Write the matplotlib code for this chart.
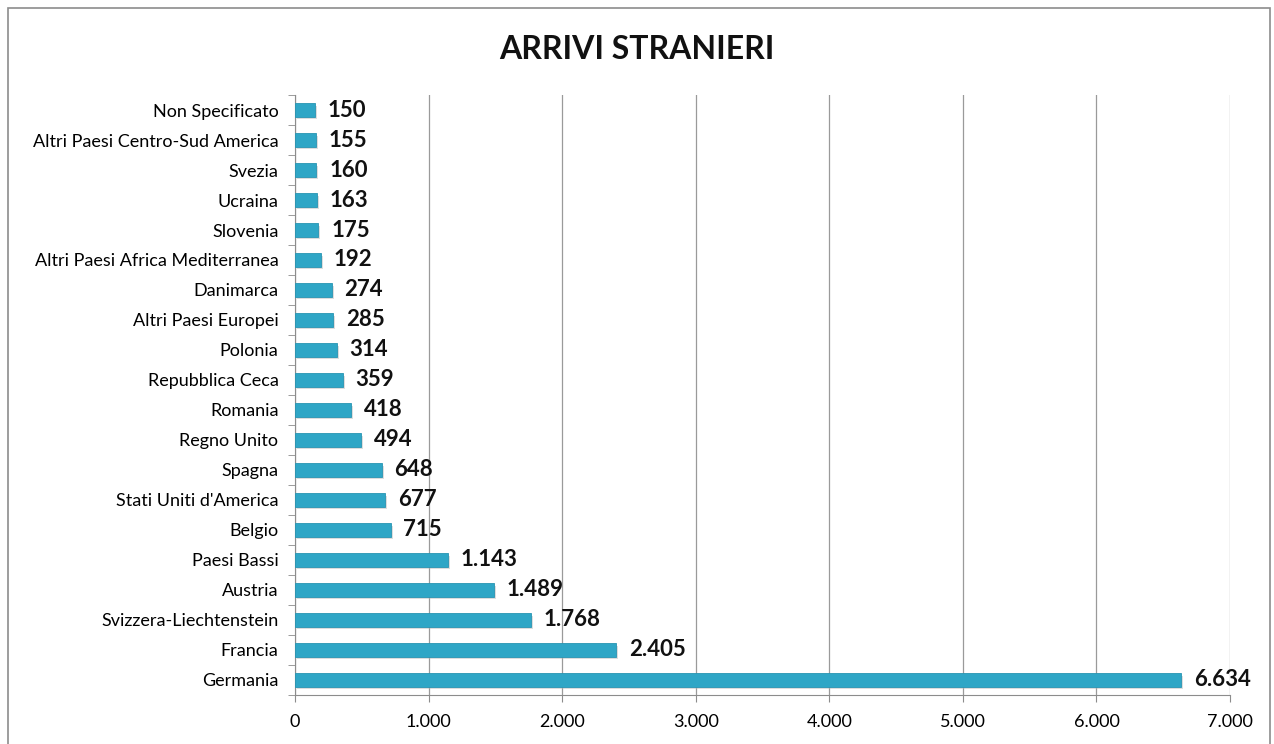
import matplotlib.pyplot as plt
import numpy as np
from matplotlib.patches import Rectangle
from matplotlib.ticker import FuncFormatter, FixedLocator

plt.rcParams['font.family'] = ['Lato', 'DejaVu Sans']

paesi = ["Germania", "Francia", "Svizzera-Liechtenstein", "Austria", "Paesi Bassi",
         "Belgio", "Stati Uniti d'America", "Spagna", "Regno Unito", "Romania",
         "Repubblica Ceca", "Polonia", "Altri Paesi Europei", "Danimarca",
         "Altri Paesi Africa Mediterranea", "Slovenia", "Ucraina", "Svezia",
         "Altri Paesi Centro-Sud America", "Non Specificato"]
arrivi = [6634, 2405, 1768, 1489, 1143, 715, 677, 648, 494, 418,
          359, 314, 285, 274, 192, 175, 163, 160, 155, 150]


def fmt_it(v, pos=None):
    return f"{int(v):,}".replace(",", ".")


fig = plt.figure(figsize=(12.74, 7.44), dpi=100)
fig.patches.append(Rectangle((8 / 1274, -0.01), 1262 / 1274, 1 - 8 / 744 + 0.01,
                             transform=fig.transFigure, fill=False,
                             edgecolor='#8c8c8c', linewidth=1.2))
ax = fig.add_axes([0.2316, 0.0659, 0.7339, 0.8064])

y = np.arange(len(paesi))
# shadow
ax.barh(y - 0.09, arrivi, height=0.45, left=15, color='#b5b5b5', alpha=0.45, zorder=2)
ax.barh(y, arrivi, height=0.46, color='#2fa6c6', edgecolor='#2894b2', linewidth=0.6, zorder=3)

for yi, v in zip(y, arrivi):
    ax.text(v + 95, yi, fmt_it(v), va='center', ha='left',
            fontsize=16, fontweight='bold', color='#111111', zorder=4)

ax.set_xlim(0, 7000)
ax.set_ylim(-0.5, len(paesi) - 0.5)
ax.set_xticks(np.arange(0, 7001, 1000))
ax.xaxis.set_major_formatter(FuncFormatter(fmt_it))
ax.set_yticks(y)
ax.set_yticklabels(paesi)
ax.yaxis.set_minor_locator(FixedLocator(np.arange(-0.5, len(paesi), 1)))
ax.tick_params(axis='y', which='major', length=0, pad=12, labelsize=13)
ax.tick_params(axis='y', which='minor', length=5, color='#8c8c8c', direction='out')
ax.tick_params(axis='x', length=5, color='#8c8c8c', labelsize=13, pad=9)
ax.grid(axis='x', color='#9a9a9a', linewidth=0.9, zorder=0)
ax.set_axisbelow(True)
for s in ['top', 'right']:
    ax.spines[s].set_visible(False)
ax.spines['left'].set_color('#8c8c8c')
ax.spines['bottom'].set_color('#8c8c8c')

fig.text(0.5, 0.933, "ARRIVI STRANIERI", ha='center', va='center',
         fontsize=23, fontweight='bold', color='#111111')

fig.savefig("out.png", dpi=100)
